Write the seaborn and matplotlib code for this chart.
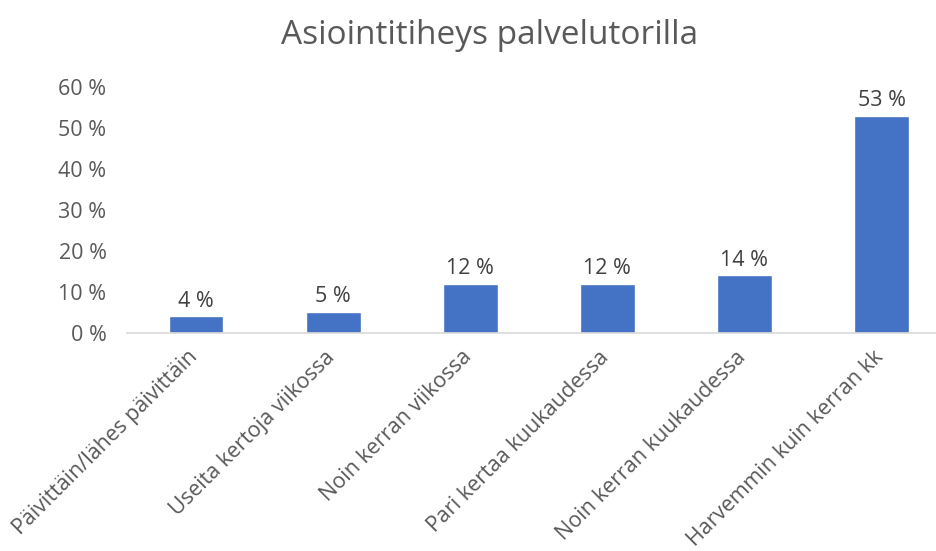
import matplotlib
matplotlib.use("Agg")
import matplotlib.pyplot as plt
import matplotlib.transforms as mtransforms
import seaborn as sns
import pandas as pd

categories = [
    "Päivittäin/lähes päivittäin",
    "Useita kertoja viikossa",
    "Noin kerran viikossa",
    "Pari kertaa kuukaudessa",
    "Noin kerran kuukaudessa",
    "Harvemmin kuin kerran kk",
]
values = [4, 5, 12, 12, 14, 53]
y_ticks = [0, 10, 20, 30, 40, 50, 60]

sns.set_theme(style="white")
plt.rcParams["font.family"] = ["Open Sans", "DejaVu Sans"]

df = pd.DataFrame({"cat": categories, "val": values})

fig = plt.figure(figsize=(9.37, 5.51), dpi=100)
ax = fig.add_axes([0.136, 0.396, 0.878, 0.446])

sns.barplot(data=df, x="cat", y="val", color="#4472C4", width=0.4,
            saturation=1, ax=ax)

for i, v in enumerate(values):
    ax.text(i, v + 1.2, f"{v} %", ha="center", va="bottom",
            fontsize=15.5, color="#404040")

ax.set_ylim(0, 60)
ax.set_xlim(-0.5, len(categories) - 0.5)
ax.set_yticks(y_ticks)
ax.set_yticklabels([f"{t} %" for t in y_ticks], fontsize=15.5, color="#595959")
ax.set_xticks(range(len(categories)))
ax.set_xticklabels(categories, rotation=45, ha="right", rotation_mode="anchor",
                   fontsize=15.5, color="#595959")
ax.tick_params(axis="y", length=0, pad=15)
ax.tick_params(axis="x", length=0, pad=10)
ax.set_xlabel("")
ax.set_ylabel("")

# nudge rotated labels slightly left, like the original
shift = mtransforms.ScaledTranslation(-0.09, 0, fig.dpi_scale_trans)
for lbl in ax.get_xticklabels():
    lbl.set_transform(lbl.get_transform() + shift)

for s in ["top", "right", "left"]:
    ax.spines[s].set_visible(False)
ax.spines["bottom"].set_color("#D9D9D9")
ax.spines["bottom"].set_linewidth(1.2)

fig.text(0.523, 0.935, "Asiointitiheys palvelutorilla", ha="center", va="center",
         fontsize=24, color="#595959")

fig.savefig("out.png", dpi=100)
